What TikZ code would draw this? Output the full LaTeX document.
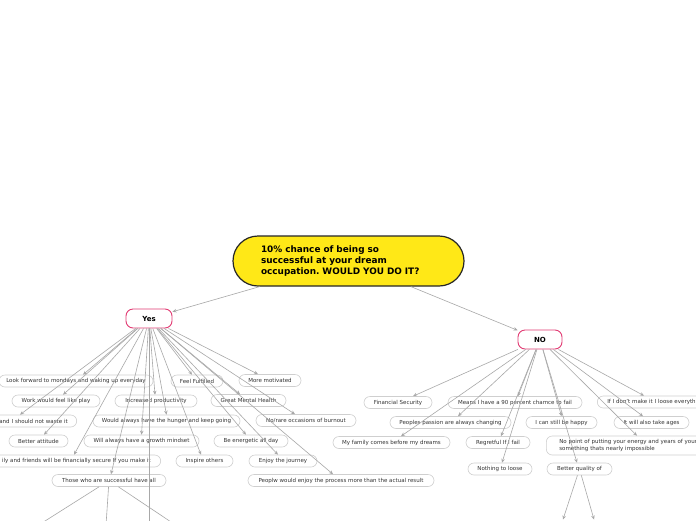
\documentclass[tikz,border=0pt]{standalone}
\usepackage{fontspec}
\setmainfont{DejaVu Sans}
\usetikzlibrary{arrows.meta,calc}
\definecolor{edgegray}{HTML}{A8A8A8}
\definecolor{boxgray}{HTML}{CFCFCF}
\definecolor{txtgray}{HTML}{333333}
\definecolor{pinkb}{HTML}{E23B73}
\definecolor{rootyellow}{HTML}{FFE817}
\frenchspacing
\begin{document}
\begin{tikzpicture}[x=1pt,y=-1pt,
 leaf/.style={draw=boxgray, line width=0.6pt, rounded corners=6pt, fill=white, minimum height=12pt, inner sep=0pt, font=\fontsize{5.5}{6.6}\selectfont, text=txtgray},
 hub/.style={draw=pinkb, line width=0.9pt, rounded corners=7pt, fill=white, minimum height=19pt, inner sep=0pt, font=\bfseries\fontsize{7}{8}\selectfont, text=black},
 rootbox/.style={draw=black!85, line width=1.2pt, fill=rootyellow, rounded corners=25pt, text width=175pt, inner xsep=28pt, inner ysep=0pt, minimum height=50pt, align=left, font=\bfseries\fontsize{8.9}{11}\selectfont},
 conn/.style={draw=edgegray, line width=0.6pt, -{Stealth[length=4pt,width=3.5pt]}},
 plain/.style={draw=edgegray, line width=0.6pt}]
\clip (0,0) rectangle (696,520);
\fill[white] (0,0) rectangle (696,520);

% root and hubs
\node[rootbox] (root) at (348.5,261) {10\% chance of being so\\successful at your dream\\occupation. WOULD YOU DO IT?};
\node[hub, minimum width=46pt] (yes) at (149,318.5) {Yes};
\node[hub, minimum width=44pt] (no) at (540,339.5) {NO};

% Yes children
\node[leaf, minimum width=154pt] (look) at (76,381) {Look forward to mondays and waking up everyday};
\node[leaf, minimum width=52pt] (fulfil) at (197,381) {Feel Fulfilled};
\node[leaf, minimum width=62pt] (motiv) at (270,380.5) {More motivated};
\node[leaf, minimum width=88pt] (play) at (56,401) {Work would feel like play};
\node[leaf, minimum width=82pt] (prod) at (156,401) {Increased productivity};
\node[leaf, minimum width=75pt] (mental) at (248.5,400.5) {Great Mental Health};
\node[leaf, text width=110pt, align=right, inner xsep=9pt, anchor=east] (waste) at (77,421) {and I should not waste it};
\node[leaf, minimum width=147pt] (hunger) at (166.5,421) {Would always have the hunger and keep going};
\node[leaf, minimum width=100pt] (burnout) at (306,420.5) {No/rare occasions of burnout};
\node[leaf, minimum width=59pt] (attitude) at (38.5,441) {Better attitude};
\node[leaf, minimum width=115pt] (growth) at (141.5,441) {Will always have a growth mindset};
\node[leaf, minimum width=74pt] (energy) at (251,441) {Be energetic all day};
\node[leaf, text width=230pt, align=right, inner xsep=10pt, anchor=east] (friends) at (161,461) {ily and friends will be financially secure If you make it};
\node[leaf, minimum width=57pt] (inspire) at (204.5,461) {Inspire others};
\node[leaf, minimum width=68pt] (journey) at (283,461) {Enjoy the journey};
\node[leaf, minimum width=114pt] (those) at (109,480.5) {Those who are successful have all};
\node[leaf, minimum width=186pt] (process) at (341,480.5) {Peoplw would enjoy the process more than the actual result};

% NO children
\node[leaf, minimum width=68pt] (finsec) at (398,402.5) {Financial Security};
\node[leaf, minimum width=134pt] (means) at (515,402.5) {Means I have a 90 percent chamce to fail};
\node[leaf, minimum width=121pt] (passion) at (450.5,422.5) {Peoples passion are always changing};
\node[leaf, minimum width=117pt] (family) at (391.5,442.5) {My family comes before my dreams};
\node[leaf, minimum width=64pt] (regret) at (498,442.5) {Regretful If I fail};
\node[leaf, minimum width=64pt] (nothing) at (500,469) {Nothing to loose};
\node[leaf, minimum width=71pt] (happy) at (561.5,422.5) {I can still be happy};
\node[leaf, text width=130pt, align=left, inner xsep=10pt, anchor=west] (dontmake) at (597,402) {If I don't make it I loose everything};
\node[leaf, minimum width=75pt] (ages) at (651.5,422.5) {It will also take ages};
\node[leaf, text width=180pt, align=left, inner xsep=13pt, minimum height=19pt, anchor=west, font=\fontsize{5.5}{6.2}\selectfont] (nopoint) at (546,445.5) {No point of putting your energy and years of your\\something thats nearly impossible};
\node[leaf, minimum width=65pt] (better) at (579.5,469) {Better quality of};

% off-canvas ends
\coordinate (yesbelow) at (149,600);
\coordinate (th1) at (15,540);
\coordinate (th2) at (105,540);
\coordinate (th3) at (198,540);
\coordinate (bq1) at (563,519.5);
\coordinate (bq2) at (594,519.5);

% connectors
\draw[conn] (root) -- (yes);
\draw[conn] (root) -- (no);

\draw[conn] (yes) -- ([xshift=7pt]look.north);
\draw[conn] (yes) -- ([xshift=-5pt]fulfil.north);
\draw[conn] (yes) -- ([xshift=-12pt]motiv.north);
\draw[conn] (yes) -- ([xshift=7pt]play.north);
\draw[conn] (yes) -- ([xshift=-1pt]prod.north);
\draw[conn] (yes) -- ([xshift=-8.5pt]mental.north);
\draw[conn] (yes) -- ([xshift=-57pt]waste.north east);
\draw[conn] (yes) -- (hunger.north);
\draw[conn] (yes) -- ([xshift=-11pt]burnout.north);
\draw[conn] (yes) -- ([xshift=5.5pt]attitude.north);
\draw[conn] (yes) -- (growth.north);
\draw[conn] (yes) -- ([xshift=-5pt]energy.north);
\draw[conn] (yes) -- ([xshift=-87pt]friends.north east);
\draw[conn] (yes) -- ([xshift=-3.5pt]inspire.north);
\draw[conn] (yes) -- ([xshift=-5pt]journey.north);
\draw[conn] (yes) -- ([xshift=2pt]those.north);
\draw[conn] (yes) -- ([xshift=-8pt]process.north);
\draw[plain] (yes) -- (yesbelow);

\draw[plain] (those) -- (th1);
\draw[plain] (those) -- (th2);
\draw[plain] (those) -- (th3);

\draw[conn] (no) -- ([xshift=15pt]finsec.north);
\draw[conn] (no) -- ([xshift=3pt]means.north);
\draw[conn] (no) -- ([xshift=7.5pt]passion.north);
\draw[conn] (no) -- ([xshift=9.5pt]family.north);
\draw[conn] (no) -- ([xshift=3pt]regret.north);
\draw[conn] (no) -- ([xshift=2pt]nothing.north);
\draw[conn] (no) -- (happy.north);
\draw[conn] (no) -- ([xshift=47pt]dontmake.north west);
\draw[conn] (no) -- ([xshift=-8.5pt]ages.north);
\draw[conn] (no) -- ([xshift=91pt]nopoint.north west);
\draw[conn] (no) -- ([xshift=-2.5pt]better.north);

\draw[conn] (better) -- (bq1);
\draw[conn] (better) -- (bq2);
\end{tikzpicture}
\end{document}
